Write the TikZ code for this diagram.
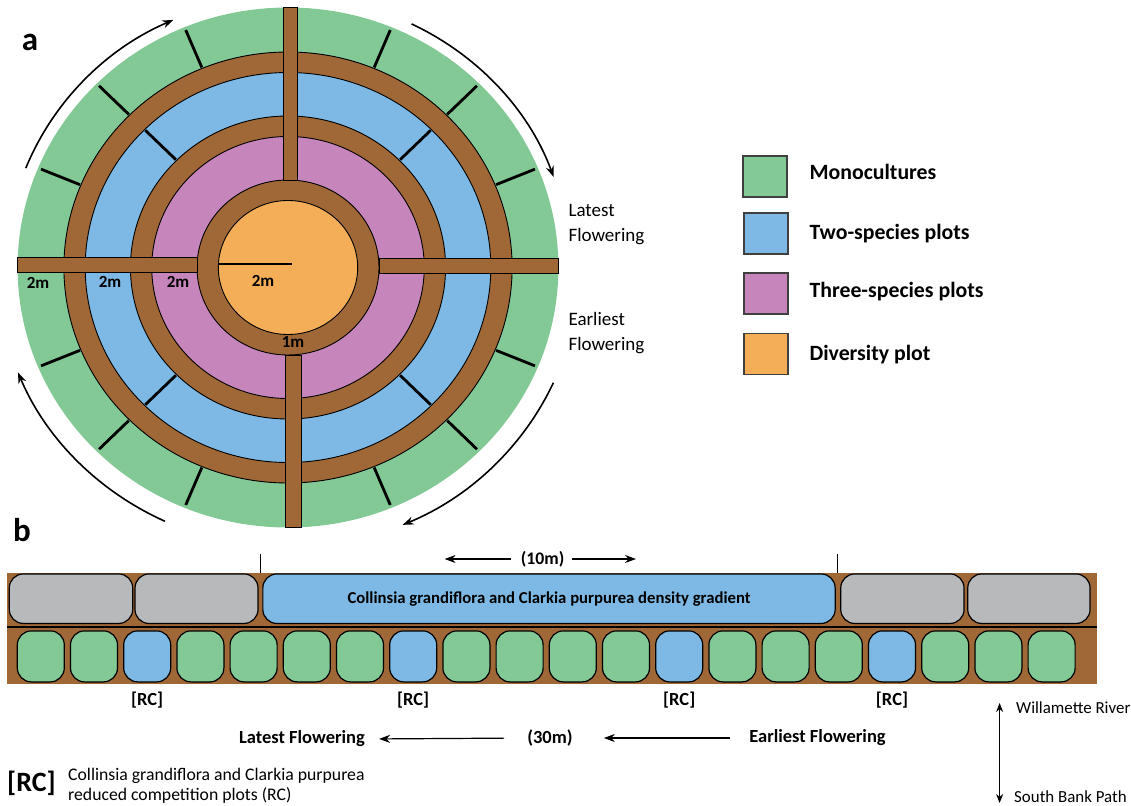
\documentclass[tikz,border=0pt]{standalone}
\usepackage{fontspec}
\setmainfont{Carlito}
\usetikzlibrary{arrows.meta}

\definecolor{mono}{RGB}{130,201,149}
\definecolor{twosp}{RGB}{125,185,228}
\definecolor{threesp}{RGB}{198,134,187}
\definecolor{divers}{RGB}{245,174,88}
\definecolor{walkway}{RGB}{160,103,55}
\definecolor{spare}{RGB}{184,185,187}

\tikzset{
  ring/.style={draw=black,line width=0.9pt},
  cut/.style={line width=2.8pt},
  bar/.style={fill=walkway,draw=black,line width=0.9pt},
  arr/.style={-{Stealth[length=11pt,width=8pt]},line width=1.6pt},
  dist/.style={font=\fontsize{17}{20}\selectfont\bfseries,inner sep=1pt},
  swatch/.style={draw=black!75,line width=1.3pt,minimum width=44pt,minimum height=41pt,inner sep=0pt},
  keytext/.style={anchor=west,font=\fontsize{21.8}{26}\selectfont\bfseries},
  side/.style={anchor=west,align=left,font=\fontsize{19}{25.5}\selectfont},
  panel/.style={font=\fontsize{33}{36}\selectfont\bfseries},
  bed/.style={draw=black,line width=1.2pt,rounded corners=14pt,inner sep=0pt},
  cell/.style={bed,minimum width=47pt,minimum height=51pt},
  strip/.style={bed,minimum height=49.5pt},
  tag/.style={font=\fontsize{18.5}{22}\selectfont\bfseries,inner sep=2pt},
  note/.style={anchor=west,font=\fontsize{16.9}{20}\selectfont,inner sep=2pt},
}

\begin{document}
\begin{tikzpicture}[x=1pt,y=-1pt]
\useasboundingbox (0,0) rectangle (1131,805);

% a: circular garden
\begin{scope}[shift={(288,267.5)},xscale=1.04]
\fill[mono] (0,0) circle[radius=260];
\filldraw[fill=walkway,ring] (0,0) circle[radius=215.5];
\filldraw[fill=twosp,ring] (0,0) circle[radius=195];
\filldraw[fill=walkway,ring] (0,0) circle[radius=151.5];
\filldraw[fill=threesp,ring] (0,0) circle[radius=131];
\filldraw[fill=walkway,ring] (0,0) circle[radius=87.5];
\filldraw[fill=divers,ring] (0,0) circle[radius=67];

\foreach \a in {22.5,45,67.5,112.5,135,157.5,202.5,225,247.5,292.5,315,337.5}
  \draw[cut] (\a:216.5) -- (\a:257);
\foreach \a in {45,135,225,315}
  \draw[cut] (\a:152.5) -- (\a:194);

\draw[arr] (-158.5:271) arc[start angle=-158.5,end angle=-114,radius=271];
\draw[arr] (-64:271) arc[start angle=-64,end angle=-19.5,radius=271];
\draw[arr] (24.3:280) arc[start angle=24.3,end angle=66.8,radius=280];
\draw[arr] (-245:280) arc[start angle=-245,end angle=-202,radius=280];
\end{scope}

\filldraw[bar] (283,7.5) rectangle (297,180);
\filldraw[bar] (285,355) rectangle (301,527.5);
\filldraw[bar] (17.6,257) rectangle (197,272);
\filldraw[bar] (379,258) rectangle (558.4,273);

\draw[cut] (219,264) -- (292,264);

\node[dist] (wgreen) at (38,283) {2m};
\node[dist] (wblue) at (110,282) {2m};
\node[dist] (wpurple) at (178,282) {2m};
\node[dist] (worange) at (263,281) {2m};
\node[dist] (wpath) at (293,342) {1m};

\node[panel] (pa) at (30,42) {a};
\node[side] (late) at (565,224.5) {Latest\\Flowering};
\node[side] (early) at (565,333) {Earliest\\Flowering};

% legend
\node[swatch,fill=mono] (kmono) at (765,176.5) {};
\node[swatch,fill=twosp] (ktwo) at (766,233.5) {};
\node[swatch,fill=threesp] (kthree) at (766,293.5) {};
\node[swatch,fill=divers] (kdiv) at (766,354) {};
\node[keytext] (tmono) at (806,172) {Monocultures};
\node[keytext] (ttwo) at (806,234) {Two-species plots};
\node[keytext] (tthree) at (806,291.5) {Three-species plots};
\node[keytext] (tdiv) at (806,354.5) {Diversity plot};

% b: linear garden
\node[panel] (pb) at (22,530) {b};
\fill[walkway] (7,573) rectangle (1097,684);
\draw[line width=2.4pt] (7,627) -- (1097,627);

\node[strip,fill=spare,minimum width=123.4pt] (g1) at (71,598.7) {};
\node[strip,fill=spare,minimum width=123pt] (g2) at (196.5,598.7) {};
\node[strip,fill=twosp,minimum width=572.3pt,font=\fontsize{16.7}{20}\selectfont\bfseries] (grad) at (549,598.7)
  {Collinsia grandiflora and Clarkia purpurea density gradient};
\node[strip,fill=spare,minimum width=123.3pt] (g3) at (902.4,598.7) {};
\node[strip,fill=spare,minimum width=122.3pt] (g4) at (1028.9,598.7) {};

\draw[line width=1.2pt] (260.7,554) -- (260.7,573);
\draw[line width=1.2pt] (837.3,554) -- (837.3,573);

\node[tag,font=\fontsize{17.7}{21}\selectfont\bfseries] (ten) at (542.6,559) {(10m)};
\coordinate (tenl) at (444.6,559);
\coordinate (tenr) at (636,559);
\draw[arr,line width=1.2pt,shorten <=8pt] (ten.west) -- (tenl);
\draw[arr,line width=1.2pt,shorten <=6pt] (ten.east) -- (tenr);

\foreach \i/\c in {1/mono,2/mono,3/twosp,4/mono,5/mono,6/mono,7/mono,8/twosp,9/mono,10/mono,
                   11/mono,12/mono,13/twosp,14/mono,15/mono,16/mono,17/twosp,18/mono,19/mono,20/mono}
  \node[cell,fill=\c] (sq\i) at ({40.8+53.2*(\i-1)},656.4) {};

\coordinate (rcrow) at (0,700);
\foreach \i in {3,8,13,17}
  \node[tag] (rc\i) at (sq\i |- rcrow) {[RC]};

\node[tag] (lateb) at (302,739) {Latest Flowering};
\node[tag] (thirty) at (550,738) {(30m)};
\node[tag] (earlyb) at (817.5,738) {Earliest Flowering};
\draw[arr,line width=1.2pt,shorten <=21pt,shorten >=12pt] (thirty.west) -- (lateb.east);
\draw[arr,line width=1.2pt,shorten <=17pt,shorten >=29pt] (earlyb.west) -- (thirty.east);

\node[note] (river) at (1014,708) {Willamette River};
\node[note] (bank) at (1012,797) {South Bank Path};
\coordinate (upriver) at (999.6,703);
\coordinate (downbank) at (999.6,803);
\draw[{Stealth[length=9pt,width=7pt]}-{Stealth[length=9pt,width=7pt]},line width=1pt] (downbank) -- (upriver);

\node[anchor=west,inner sep=0pt,font=\fontsize{28}{32}\selectfont\bfseries] (rckey) at (7,783) {[RC]};
\node[anchor=north west,align=left,inner sep=1pt,font=\fontsize{17.7}{19.5}\selectfont] (rctext) at (67,767)
  {Collinsia grandiflora and Clarkia purpurea\\reduced competition plots (RC)};
\end{tikzpicture}
\end{document}
